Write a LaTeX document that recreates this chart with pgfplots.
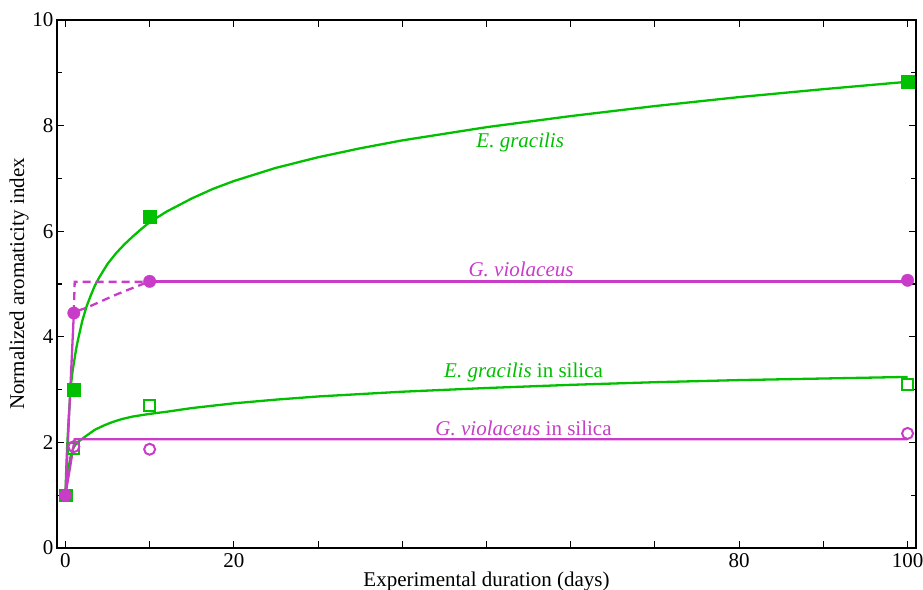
\documentclass[border=0pt]{standalone}
\usepackage{pgfplots}
\pgfplotsset{compat=1.18}
\usepackage{fontspec}
\setmainfont{Liberation Serif}
\definecolor{egr}{RGB}{0,192,0}
\definecolor{gvi}{RGB}{200,60,200}
\begin{document}
\begin{tikzpicture}
\useasboundingbox (-57pt,-41pt) rectangle (866pt,548pt);
\begin{axis}[
    scale only axis,
    width=859pt, height=528pt,
    xmin=-1, xmax=101,
    ymin=0, ymax=10,
    axis line style={line width=1.6pt},
    tick style={line width=1.1pt, black},
    tick align=inside,
    major tick length=7pt,
    minor tick length=5pt,
    xtick={0,10,...,100},
    xticklabels={0,,20,,,,,,80,,100},
    ytick={0,2,...,10},
    minor ytick={1,3,...,9},
    font=\fontsize{21}{24}\selectfont,
    tick label style={font=\fontsize{21}{24}\selectfont},
    label style={font=\fontsize{21}{24}\selectfont},
    /pgf/number format/assume math mode=true,
    xlabel={Experimental duration (days)},
    ylabel={Normalized aromaticity index},
    xticklabel style={yshift=-2pt},
    xlabel style={yshift=3pt},
    ylabel style={yshift=-3pt},
    clip=false,
]
% fitted curves
\addplot[egr, line width=2.3pt] coordinates {
(0,1) (0.05,1.25) (0.1,1.5) (0.2,1.9) (0.3,2.2) (0.4,2.5) (0.55,2.85) (0.7,3.15)
(0.85,3.35) (1,3.5) (1.25,3.75) (1.5,3.95) (2,4.3) (2.5,4.57) (3,4.78)
(3.5,4.97) (4,5.12) (5,5.38) (6,5.58) (7,5.75) (8,5.90) (9,6.04) (10,6.17)
(12,6.37) (15,6.62) (17.5,6.80) (20,6.95) (25,7.20) (30,7.40) (35,7.57) (40,7.72)
(50,7.97) (60,8.18) (70,8.37) (80,8.54) (90,8.69) (100,8.83)};
\addplot[egr, line width=2.3pt] coordinates {
(0,1) (0.15,1.25) (0.3,1.45) (0.6,1.72) (0.9,1.88) (1.2,1.96) (1.6,2.02)
(2,2.07) (2.7,2.15) (3.5,2.24) (4.7,2.33) (5.5,2.38) (6.65,2.44) (8,2.49)
(10,2.54) (12,2.58) (15,2.65) (20,2.74) (25,2.81) (30,2.87) (40,2.96) (50,3.03)
(60,3.09) (70,3.14) (80,3.18) (90,3.21) (100,3.24)};
\addplot[gvi, line width=2.3pt] coordinates {(0,1) (1,4.45)};
\addplot[gvi, line width=2.3pt] coordinates {(10,5.05) (100,5.05)};
\addplot[gvi, line width=2.3pt] coordinates {(0,1) (1.1,2.06) (100,2.06)};
\addplot[gvi, line width=2.3pt, dash pattern=on 8pt off 5pt] coordinates {
(1,4.45) (1.1,5.04) (10,5.04)};
\addplot[gvi, line width=2.3pt, dash pattern=on 8pt off 5pt, smooth] coordinates {
(1.5,4.5) (2.5,4.55) (5.9,4.79) (8.4,4.95) (10,5.05)};
% measurements
\addplot[only marks, mark=square*, mark size=6.3pt, color=egr] coordinates {
(0,1) (1,3.0) (10,6.28) (100,8.83)};
\addplot[only marks, mark=square, mark size=5.5pt, line width=2pt, color=egr] coordinates {
(0,1) (1,1.88) (10,2.7) (100,3.1)};
\addplot[only marks, mark=*, mark size=6.2pt, color=gvi] coordinates {
(0,1) (1,4.45) (10,5.05) (100,5.07)};
\addplot[only marks, mark=o, mark size=5.5pt, line width=2pt, color=gvi] coordinates {
(1,1.92) (10,1.87) (100,2.17)};
% labels
\node[egr] at (axis cs:54,7.69) {\textit{E. gracilis}};
\node[gvi] at (axis cs:54.1,5.27) {\textit{G. violaceus}};
\node[egr] at (axis cs:54.4,3.33) {\textit{E. gracilis} in silica};
\node[gvi] at (axis cs:54.4,2.27) {\textit{G. violaceus} in silica};
\end{axis}
\end{tikzpicture}
\end{document}
